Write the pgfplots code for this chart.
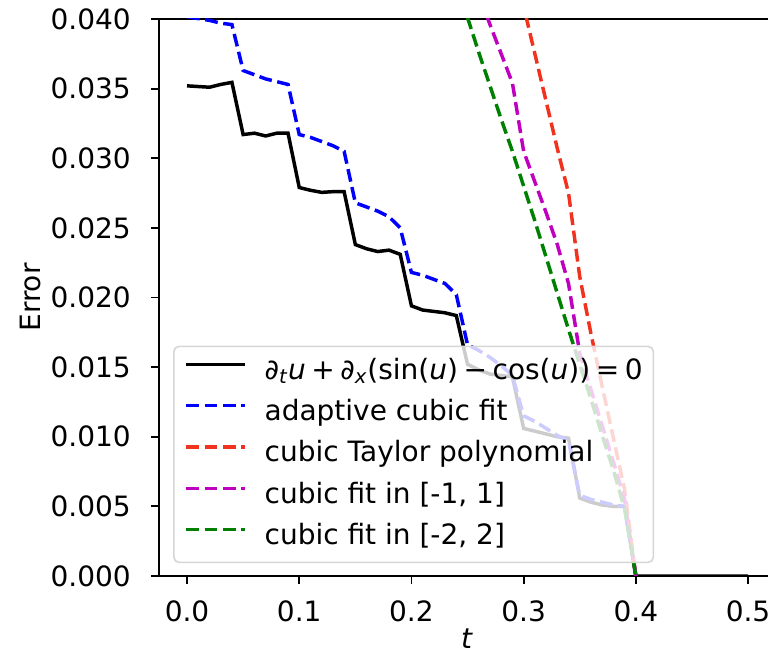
\documentclass[border=0pt]{standalone}
\usepackage{fontspec}
\setmainfont{DejaVu Sans}
\usepackage{pgfplots}
\pgfplotsset{compat=1.18}
\usetikzlibrary{calc}
\definecolor{mred}{RGB}{240,50,30}
\definecolor{mmag}{RGB}{191,0,191}
\definecolor{mgreen}{RGB}{0,128,0}
\definecolor{legframe}{RGB}{214,214,214}
\newcommand\f{\fontsize{21}{25}\selectfont}
\newcommand\bsp{\hspace{0.2em}}
\begin{document}
\begin{tikzpicture}
\begin{axis}[name=ax, scale only axis, width=456.75pt, height=417.75pt,
  xmin=-0.025, xmax=0.5178, ymin=0, ymax=0.04,
  axis x line*=box, axis y line*=left,
  x axis line style={-}, y axis line style={-},
  axis line style={line width=1.4pt, black},
  xtick={0,0.1,0.2,0.3,0.4,0.5},
  ytick={0,0.005,0.01,0.015,0.02,0.025,0.03,0.035,0.04},
  xtick pos=bottom, ytick pos=left,
  tick align=outside, major tick length=6pt,
  tick style={line width=1.4pt, black},
  /pgf/number format/assume math mode=true,
  xticklabel style={font=\f, inner sep=0pt, /pgf/number format/.cd, fixed, fixed zerofill, precision=1},
  yticklabel style={font=\f, inner sep=0pt, /pgf/number format/.cd, fixed, fixed zerofill, precision=3},
  xticklabel shift=12.5pt, yticklabel shift=15pt,
  scaled y ticks=false, scaled x ticks=false,
  xlabel={\textit{t}}, ylabel={Error},
  xlabel style={font=\f, inner sep=0pt, at={(axis description cs:0.5057,-0.0950)}, anchor=north},
  ylabel style={font=\f, inner sep=0pt, at={(axis description cs:-0.2102,0.5)}, anchor=center},
  legend cell align=left,
  legend image code/.code={\draw[#1] (0pt,5.5pt) -- (44pt,5.5pt);},
  legend style={font=\f, at={(0.023,0.023)}, anchor=south west,
    fill=white, fill opacity=0.8, text opacity=1, draw=legframe, line width=1.2pt,
    rounded corners=4pt, inner xsep=8pt, inner ysep=10pt, row sep=13pt, column sep=13.5pt,
    nodes={inner sep=0pt, text height=14.5pt, text depth=3.5pt}},
  every axis plot/.append style={line width=2.6pt},
]
\addplot[black, solid] coordinates {
(0.00,0.0352)(0.01,0.03515)(0.02,0.0351)(0.03,0.0353)(0.04,0.03545)
(0.05,0.0317)(0.06,0.0318)(0.07,0.0316)(0.08,0.0318)(0.09,0.0318)
(0.10,0.0279)(0.11,0.0277)(0.12,0.02755)(0.13,0.0276)(0.14,0.0276)
(0.15,0.0238)(0.16,0.0235)(0.17,0.0233)(0.18,0.0234)(0.19,0.0231)
(0.20,0.0194)(0.21,0.0191)(0.22,0.0190)(0.23,0.0189)(0.24,0.0187)
(0.25,0.0152)(0.26,0.0148)(0.27,0.0145)(0.28,0.0144)(0.29,0.0143)
(0.30,0.0106)(0.31,0.0104)(0.32,0.0102)(0.33,0.0100)(0.34,0.0099)
(0.35,0.0056)(0.36,0.0053)(0.37,0.0051)(0.38,0.0050)(0.39,0.0050)
(0.40,0.0)(0.41,0.0)(0.42,0.0)(0.43,0.0)(0.44,0.0)(0.45,0.0)
(0.46,0.0)(0.47,0.0)(0.48,0.0)(0.49,0.0)(0.50,0.0)};
\addlegendentry{\textit{∂}\textsubscript{\textit{t}}\textit{u}\bsp+\bsp\textit{∂}\textsubscript{\textit{x}}(sin(\textit{u})\bsp−\bsp cos(\textit{u}))\bsp=\bsp0}
\addplot[blue, dash pattern=on 9.6pt off 4.2pt] coordinates {
(0.00,0.04015)(0.01,0.04003)(0.02,0.0399)(0.03,0.0397)(0.04,0.0396)
(0.05,0.0363)(0.06,0.0360)(0.07,0.0357)(0.08,0.0355)(0.09,0.0353)
(0.10,0.0317)(0.11,0.0315)(0.12,0.0312)(0.13,0.0309)(0.14,0.0305)
(0.15,0.0268)(0.16,0.0265)(0.17,0.0262)(0.18,0.0258)(0.19,0.0250)
(0.20,0.0218)(0.21,0.0216)(0.22,0.0213)(0.23,0.0210)(0.24,0.0202)
(0.25,0.0166)(0.26,0.0162)(0.27,0.0157)(0.28,0.0151)(0.29,0.0144)
(0.30,0.0115)(0.31,0.0111)(0.32,0.0106)(0.33,0.0101)(0.34,0.0097)
(0.35,0.0058)(0.36,0.0055)(0.37,0.0053)(0.38,0.0051)(0.39,0.0050)
(0.40,0.0)};
\addlegendentry{adaptive cubic fit}
\addplot[mred, dash pattern=on 9.6pt off 4.2pt] coordinates {
(0.28,0.0480)(0.29,0.0444)(0.30,0.0409)(0.31,0.0375)(0.32,0.0341)(0.33,0.0307)(0.34,0.0275)
(0.35,0.0215)(0.36,0.0174)(0.37,0.0136)(0.38,0.0099)(0.39,0.0062)(0.40,0.0)};
\addlegendentry{cubic Taylor polynomial}
\addplot[mmag, dash pattern=on 9.6pt off 4.2pt] coordinates {
(0.25,0.0440)(0.26,0.0418)(0.27,0.0396)(0.28,0.0375)(0.29,0.0354)
(0.30,0.0305)(0.31,0.0283)(0.32,0.0261)(0.33,0.0238)(0.34,0.0210)
(0.35,0.0160)(0.36,0.0134)(0.37,0.0108)(0.38,0.0082)(0.39,0.0055)(0.40,0.0)};
\addlegendentry{cubic fit in [-1, 1]}
\addplot[mgreen, dash pattern=on 9.6pt off 4.2pt] coordinates {
(0.23,0.0452)(0.24,0.0427)(0.25,0.0401)(0.26,0.0376)(0.27,0.0352)(0.28,0.0328)(0.29,0.0305)
(0.30,0.0280)(0.31,0.0255)(0.32,0.0229)(0.33,0.0203)(0.34,0.0177)
(0.35,0.0152)(0.36,0.0127)(0.37,0.0101)(0.38,0.0076)(0.39,0.0048)(0.40,0.0)};
\addlegendentry{cubic fit in [-2, 2]}
\end{axis}
\pgfresetboundingbox
\path ([shift={(-119.25pt,-60.75pt)}]ax.south west) rectangle ([shift={(0pt,14.25pt)}]ax.north east);
\end{tikzpicture}
\end{document}
